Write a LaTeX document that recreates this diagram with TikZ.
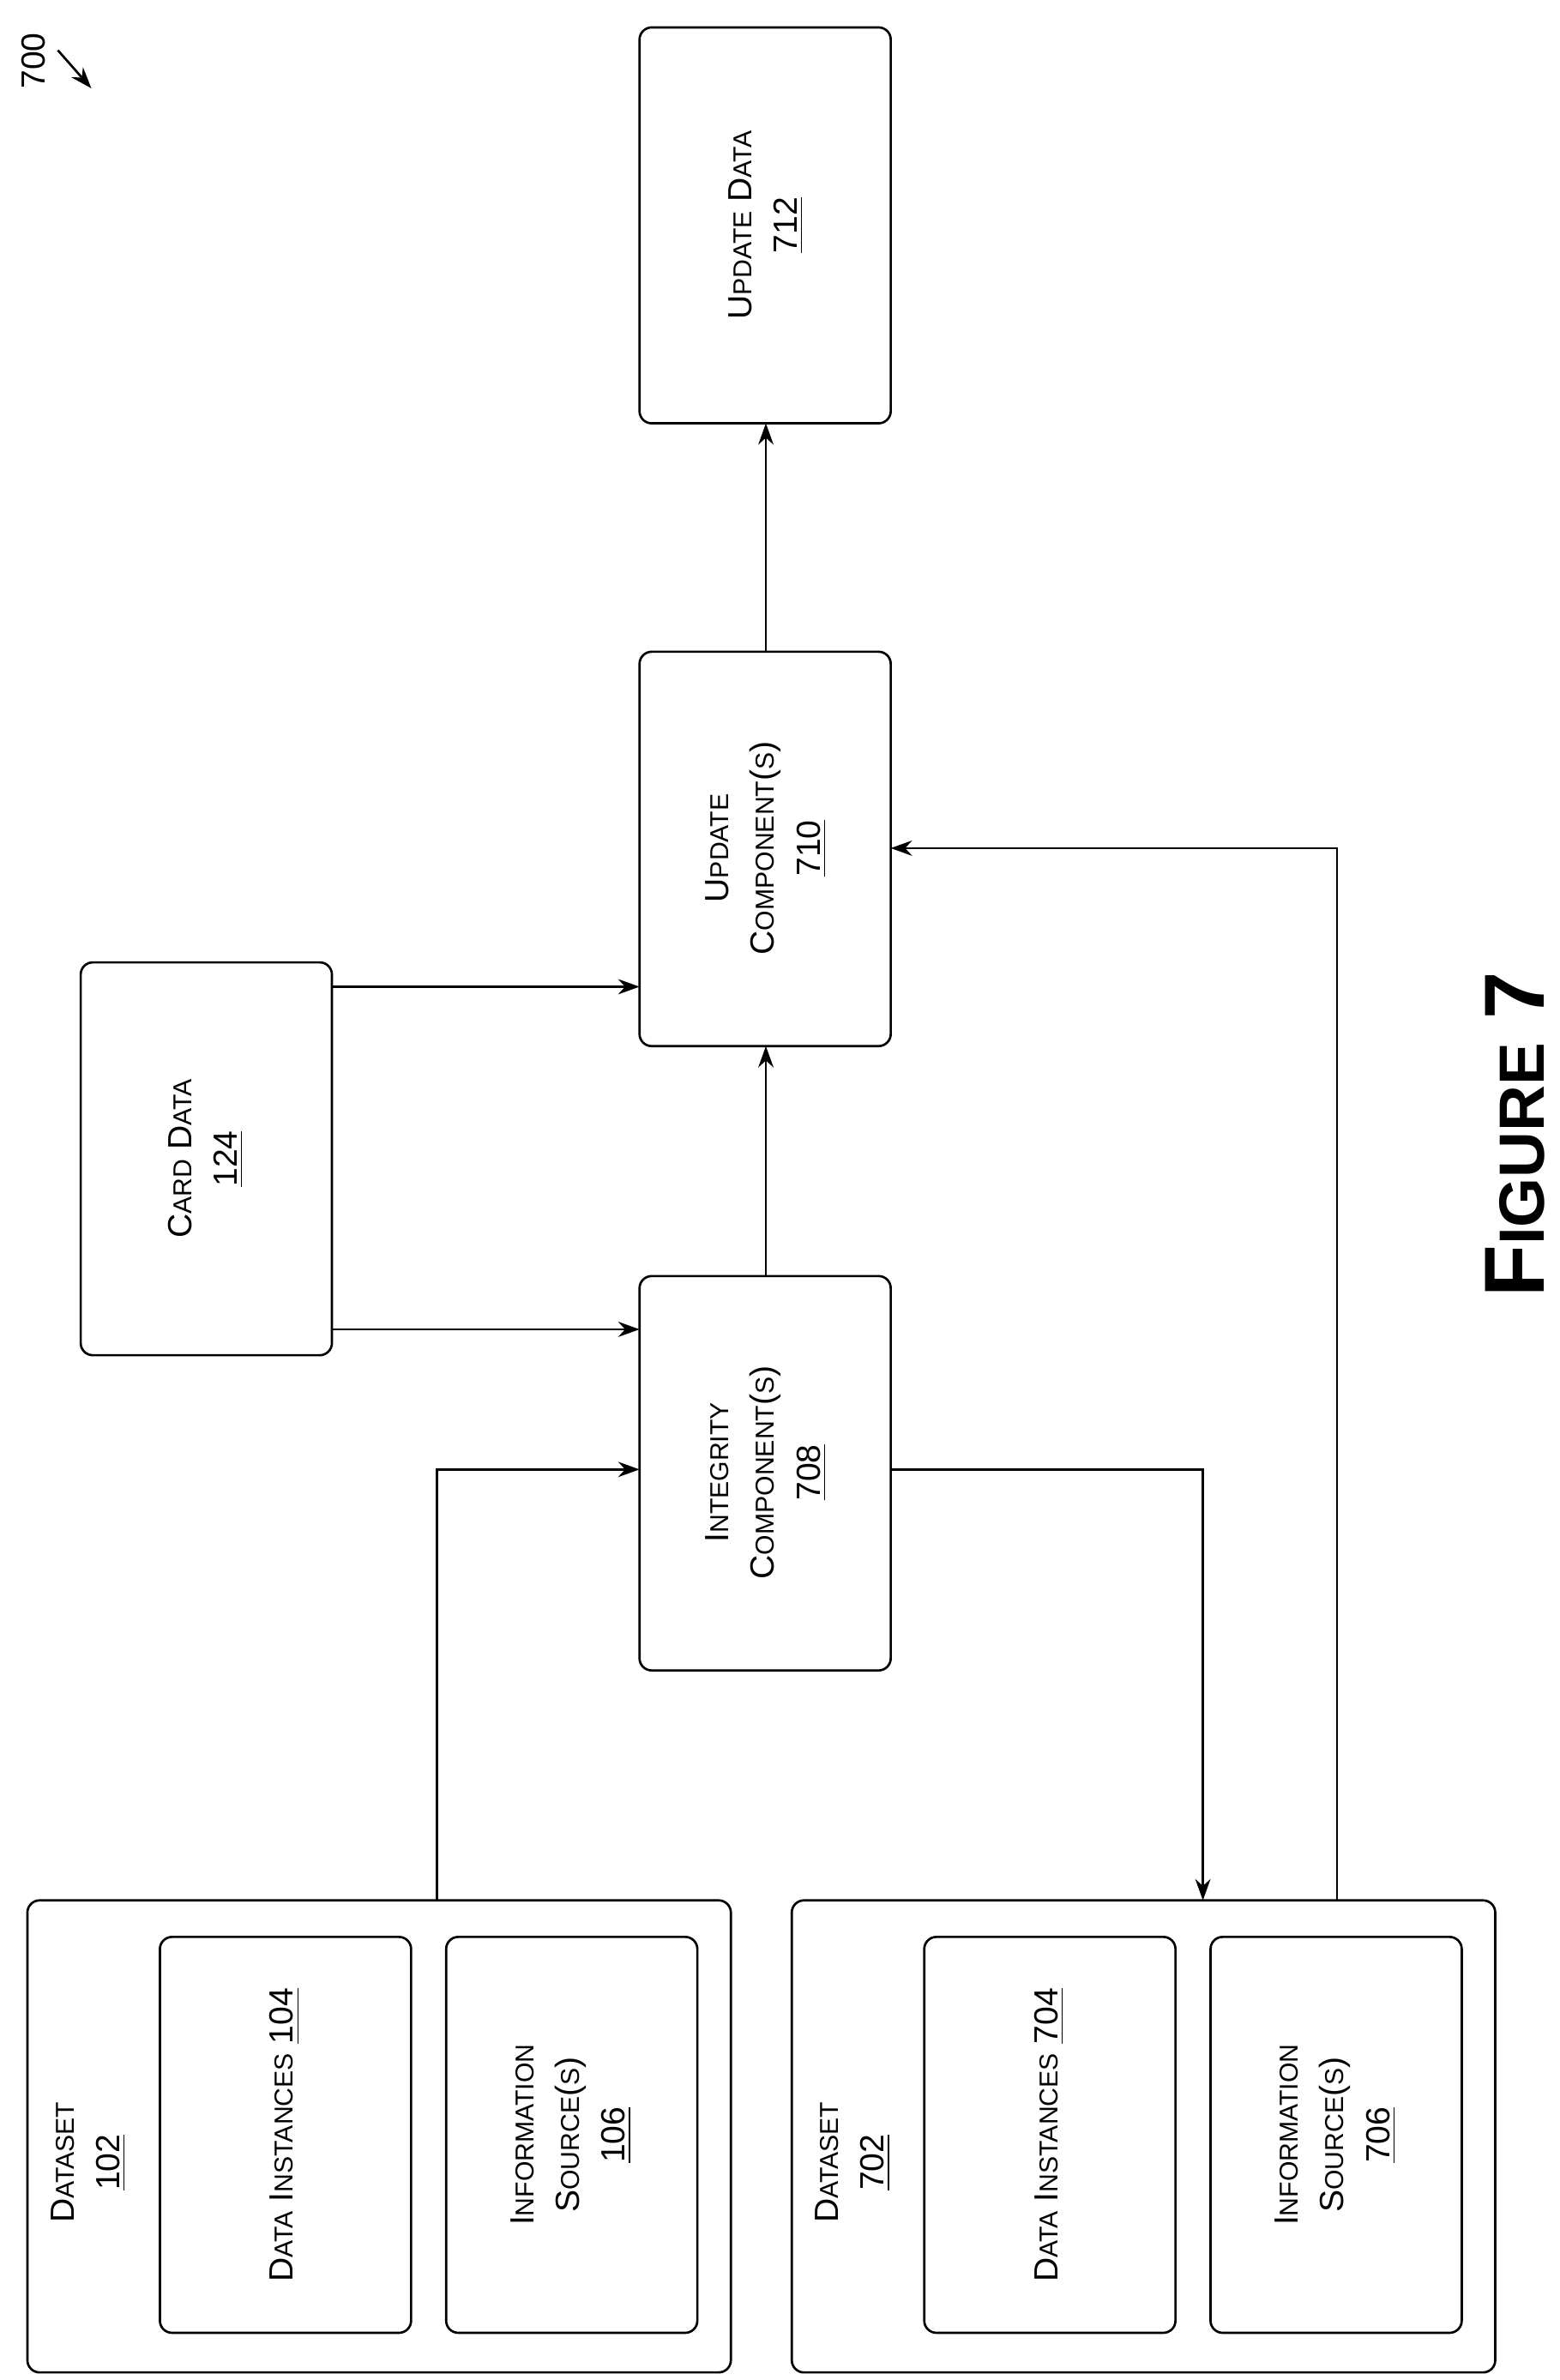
\documentclass[tikz,border=0pt]{standalone}
\usepackage{fontspec}
\setmainfont{Liberation Sans}
\usetikzlibrary{arrows.meta}
\newcommand\Sm[1]{{\fontsize{8.5}{15}\selectfont #1}}
\begin{document}
\begin{tikzpicture}[x=0.5pt,y=-0.5pt,
  box/.style={draw,line width=0.75pt,rounded corners=4pt},
  lbl/.style={rotate=90,align=center,font=\fontsize{11}{15}\selectfont},
  arr/.style={line width=0.75pt,-{Stealth[length=7pt,width=5pt]}}]
\useasboundingbox (0,0) rectangle (1024,1563);
\draw[box] (420,18) rectangle (585,278) coordinate (b712);
\path (420,18) rectangle (585,278); 
\node[lbl] (t712) at (503,148) {U\Sm{PDATE} D\Sm{ATA}\\\underline{712}};
\draw[box] (420,428) rectangle (585,687);
\node[lbl] (t710) at (503,557) {U\Sm{PDATE}\\C\Sm{OMPONENT}(\Sm{S})\\\underline{710}};
\draw[box] (420,838) rectangle (585,1097);
\node[lbl] (t708) at (503,967) {I\Sm{NTEGRITY}\\C\Sm{OMPONENT}(\Sm{S})\\\underline{708}};
\draw[box] (53,632) rectangle (218,890);
\node[lbl] (t124) at (135,761) {C\Sm{ARD} D\Sm{ATA}\\\underline{124}};
\draw[box] (18,1248) rectangle (480,1558);
\node[lbl] (t102) at (58,1420) {D\Sm{ATASET}\\\underline{102}};
\draw[box] (105,1272) rectangle (270,1532);
\node[lbl] (t104) at (187,1402) {D\Sm{ATA} I\Sm{NSTANCES} \underline{104}};
\draw[box] (293,1272) rectangle (458,1532);
\node[lbl] (t106) at (375,1402) {I\Sm{NFORMATION}\\S\Sm{OURCE}(\Sm{S})\\\underline{106}};
\draw[box] (520,1248) rectangle (982,1558);
\node[lbl] (t702) at (560,1420) {D\Sm{ATASET}\\\underline{702}};
\draw[box] (607,1272) rectangle (772,1532);
\node[lbl] (t704) at (689,1402) {D\Sm{ATA} I\Sm{NSTANCES} \underline{704}};
\draw[box] (795,1272) rectangle (960,1532);
\node[lbl] (t706) at (877,1402) {I\Sm{NFORMATION}\\S\Sm{OURCE}(\Sm{S})\\\underline{706}};
\draw[arr] (503,428) -- (503,278);
\draw[arr] (503,838) -- (503,687);
\draw[arr] (218,648) -- (420,648);
\draw[arr] (218,873) -- (420,873);
\draw[arr] (287,1248) -- (287,965) -- (420,965);
\draw[arr] (585,965) -- (790,965) -- (790,1248);
\draw[arr] (878,1248) -- (878,557) -- (585,557);
\node[rotate=90,font=\bfseries\fontsize{28}{30}\selectfont] (fig) at (995,745) {F{\fontsize{21}{30}\selectfont IGURE} 7};
\node[rotate=90,font=\fontsize{11}{13}\selectfont] (n700) at (22,40) {700};
\draw[arr] (38,33) -- (60,58);
\end{tikzpicture}
\end{document}
